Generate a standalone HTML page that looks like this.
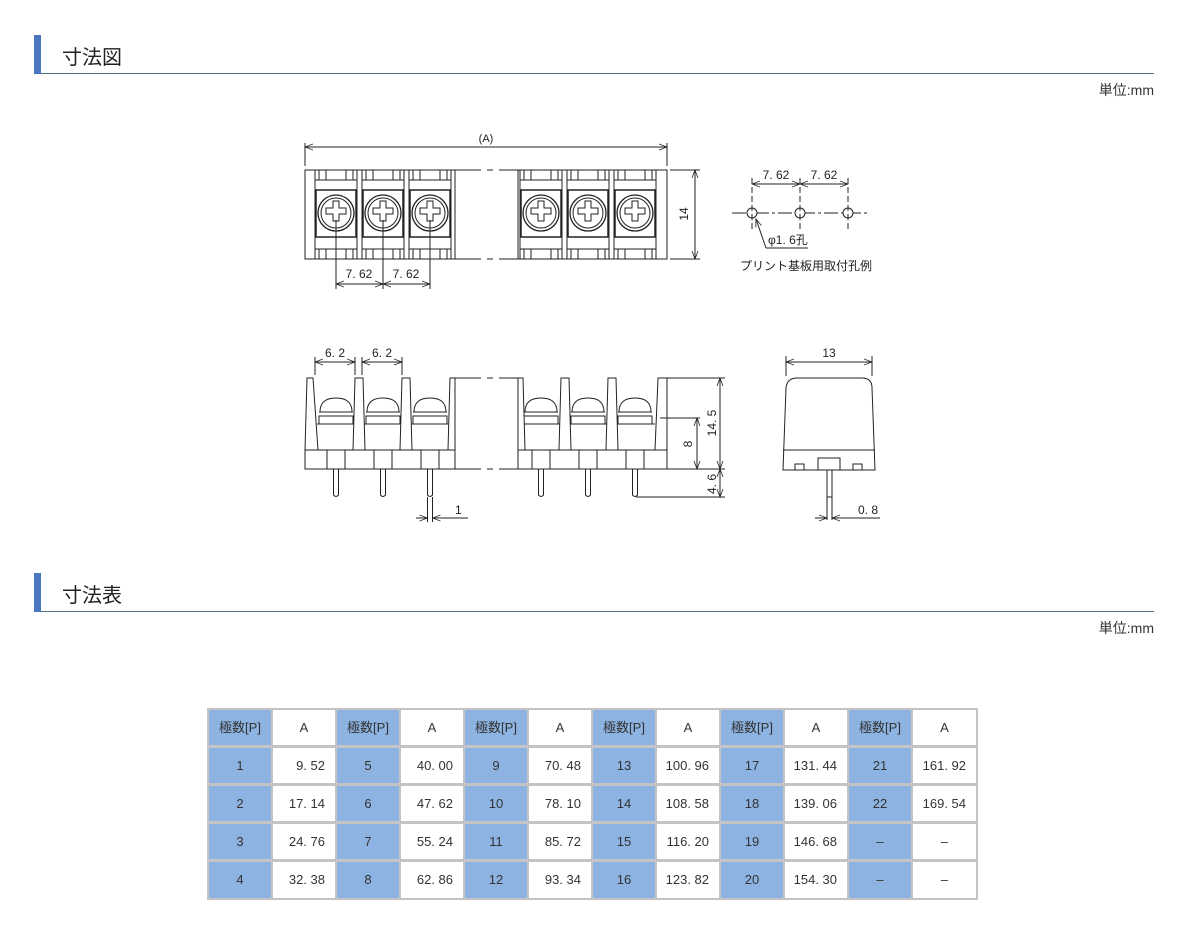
<!DOCTYPE html>
<html><head><meta charset="utf-8"><style>
body{margin:0;width:1193px;height:937px;background:#fff;position:relative;font-family:"Liberation Sans","Noto Sans CJK JP",sans-serif;overflow:hidden}
.h{position:absolute;left:34px;width:1120px;height:38px;border-bottom:1px solid #4e7282}
.h .bar{position:absolute;left:0;top:0;width:7px;height:39px;background:#4a78c0}
.h .t{position:absolute;left:28px;top:6px;font-size:20px;color:#222}
.u{position:absolute;right:39px;font-size:14px;color:#333}
.tb{position:absolute;left:207px;top:708px;width:771px;height:192px;background:#c4c4c4}
.c{position:absolute;height:35px;line-height:35px;font-size:13px;color:#333;text-align:center;box-sizing:border-box}
.b{background:#8db3e2}.w{background:#fff}.r{text-align:right;padding-right:10px}
svg text{font-family:"Liberation Sans","Noto Sans CJK JP",sans-serif;fill:#222}
</style></head><body>
<div class="h" style="top:35px"><div class="bar"></div><div class="t">寸法図</div></div>
<div class="u" style="top:80px">単位:mm</div>
<div class="h" style="top:573px"><div class="bar"></div><div class="t">寸法表</div></div>
<div class="u" style="top:618px">単位:mm</div>

<svg width="1193" height="560" style="position:absolute;left:0;top:0" stroke="#222" fill="none" stroke-width="1">
<defs>
<marker id="a" markerWidth="9" markerHeight="7" refX="8" refY="3.5" orient="auto-start-reverse" markerUnits="userSpaceOnUse"><path d="M0,0.5 L8,3.5 L0,6.5" stroke="#222" fill="none" stroke-width="0.8"/></marker>
<g id="tp">
<rect x="-21" y="170" width="42" height="89"/>
<rect x="-17" y="170" width="7" height="10"/><rect x="10" y="170" width="7" height="10"/>
<rect x="-17" y="249" width="7" height="10"/><rect x="10" y="249" width="7" height="10"/>
<line x1="-21" y1="180" x2="21" y2="180"/><line x1="-21" y1="249" x2="21" y2="249"/>
<rect x="-20" y="190" width="40" height="47" stroke-width="1.5"/>
<circle cy="213" r="18" stroke-width="1.3"/><circle cy="213" r="15"/>
<path d="M-3,201 h6 v7 h7 v6 h-7 v7 h-6 v-7 h-7 v-6 h7 z"/>
</g>
<g id="sp">
<path d="M-16,412 q0,-14 16,-14 q16,0 16,14 z" fill="#fff"/>
<rect x="-17" y="416" width="34" height="8"/>
<line x1="-17" y1="412" x2="17" y2="412"/>
<rect x="-9" y="450" width="18" height="19"/>
<path d="M-2.5,469 v26 q2.5,3 5,0 v-26"/>
</g>
<g id="br"><polygon points="-6,450 -4,378 4,378 6,450" fill="#fff"/></g>
</defs>
<!-- top view -->
<use href="#tp" x="336"/><use href="#tp" x="383"/><use href="#tp" x="430"/>
<use href="#tp" x="541"/><use href="#tp" x="588"/><use href="#tp" x="635"/>
<rect x="305" y="170" width="150" height="89"/>
<rect x="518" y="170" width="149" height="89"/>
<path d="M455,170 h63 M455,259 h63" stroke-dasharray="26,6,6,6"/>
<line x1="305" y1="166" x2="305" y2="143"/><line x1="667" y1="166" x2="667" y2="143"/>
<line x1="305" y1="147" x2="667" y2="147" marker-start="url(#a)" marker-end="url(#a)"/>
<text x="486" y="142" font-size="11" stroke="none" text-anchor="middle">(A)</text>
<line x1="670" y1="170" x2="700" y2="170"/><line x1="670" y1="259" x2="700" y2="259"/>
<line x1="695" y1="170" x2="695" y2="259" marker-start="url(#a)" marker-end="url(#a)"/>
<text transform="translate(688,214) rotate(-90)" font-size="12" stroke="none" text-anchor="middle">14</text>
<line x1="336" y1="220" x2="336" y2="289"/><line x1="383" y1="220" x2="383" y2="289"/><line x1="430" y1="220" x2="430" y2="289"/>
<line x1="336" y1="284" x2="383" y2="284" marker-start="url(#a)" marker-end="url(#a)"/>
<line x1="383" y1="284" x2="430" y2="284" marker-start="url(#a)" marker-end="url(#a)"/>
<text x="359" y="278" font-size="12" stroke="none" text-anchor="middle">7. 62</text>
<text x="406" y="278" font-size="12" stroke="none" text-anchor="middle">7. 62</text>
<!-- hole pattern -->
<line x1="732" y1="213" x2="868" y2="213" stroke-dasharray="14,3,3,3"/>
<circle cx="752" cy="213" r="5" fill="#fff"/><circle cx="800" cy="213" r="5" fill="#fff"/><circle cx="848" cy="213" r="5" fill="#fff"/>
<path d="M752,178 V230 M800,178 V230 M848,178 V230" stroke-dasharray="6,3"/>
<line x1="752" y1="184" x2="800" y2="184" marker-start="url(#a)" marker-end="url(#a)"/>
<line x1="800" y1="184" x2="848" y2="184" marker-start="url(#a)" marker-end="url(#a)"/>
<text x="776" y="179" font-size="12" stroke="none" text-anchor="middle">7. 62</text>
<text x="824" y="179" font-size="12" stroke="none" text-anchor="middle">7. 62</text>
<path d="M766,248 L756,219" marker-end="url(#a)"/><line x1="766" y1="248" x2="808" y2="248"/>
<text x="768" y="244" font-size="12" stroke="none">φ1. 6孔</text>
<text x="740" y="270" font-size="12" stroke="none">プリント基板用取付孔例</text>
<!-- side view -->
<rect x="305" y="450" width="150" height="19"/>
<rect x="518" y="450" width="149" height="19"/>
<path d="M455,378 h63 M455,469 h63" stroke-dasharray="26,6,6,6"/>
<line x1="317" y1="424" x2="449" y2="424"/><line x1="524" y1="424" x2="655" y2="424"/>
<path d="M455,378 V450 M518,378 V450"/>
<use href="#sp" x="336"/><use href="#sp" x="383"/><use href="#sp" x="430"/>
<use href="#sp" x="541"/><use href="#sp" x="588"/><use href="#sp" x="635"/>
<polygon points="305,450 307,378 313,378 318,450" fill="#fff"/>
<use href="#br" x="359"/><use href="#br" x="406"/>
<polygon points="448,450 450,378 455,378 455,450" fill="#fff"/>
<polygon points="518,450 518,378 523,378 525,450" fill="#fff"/>
<use href="#br" x="565"/><use href="#br" x="612"/>
<polygon points="655,450 658,378 667,378 667,450" fill="#fff"/>
<path d="M315,375 V357 M355,375 V357 M362,375 V357 M402,375 V357"/>
<line x1="315" y1="362" x2="355" y2="362" marker-start="url(#a)" marker-end="url(#a)"/>
<line x1="362" y1="362" x2="402" y2="362" marker-start="url(#a)" marker-end="url(#a)"/>
<text x="335" y="357" font-size="12" stroke="none" text-anchor="middle">6. 2</text>
<text x="382" y="357" font-size="12" stroke="none" text-anchor="middle">6. 2</text>
<path d="M667,378 H725 M667,469 H725 M636,497 H725 M660,418 H700"/>
<line x1="720" y1="378" x2="720" y2="469" marker-start="url(#a)" marker-end="url(#a)"/>
<line x1="697" y1="418" x2="697" y2="469" marker-start="url(#a)" marker-end="url(#a)"/>
<line x1="720" y1="469" x2="720" y2="497" marker-start="url(#a)" marker-end="url(#a)"/>
<text transform="translate(716,423) rotate(-90)" font-size="12" stroke="none" text-anchor="middle">14. 5</text>
<text transform="translate(692,444) rotate(-90)" font-size="12" stroke="none" text-anchor="middle">8</text>
<text transform="translate(716,484) rotate(-90)" font-size="12" stroke="none" text-anchor="middle">4. 6</text>
<path d="M427.5,497 V522 M432.5,497 V522"/>
<line x1="416" y1="518" x2="427.5" y2="518" marker-end="url(#a)"/>
<line x1="468" y1="518" x2="432.5" y2="518" marker-end="url(#a)"/>
<text x="455" y="514" font-size="12" stroke="none">1</text>
<!-- end view -->
<path d="M783,470 L786,388 Q787,378 797,378 H862 Q872,378 872,388 L875,470 Z"/>
<line x1="783" y1="450" x2="875" y2="450"/>
<path d="M783,470 V470 M795,470 V464 H804 V470 M818,470 V458 H840 V470 M853,470 V464 H862 V470"/>
<path d="M827,470 V520 M832,470 V520 M827,497 H832"/>
<path d="M786,376 V356 M872,376 V356"/>
<line x1="786" y1="362" x2="872" y2="362" marker-start="url(#a)" marker-end="url(#a)"/>
<text x="829" y="357" font-size="12" stroke="none" text-anchor="middle">13</text>
<line x1="815" y1="518" x2="827" y2="518" marker-end="url(#a)"/>
<line x1="880" y1="518" x2="832" y2="518" marker-end="url(#a)"/>
<text x="858" y="514" font-size="12" stroke="none">0. 8</text>
</svg>

<div class="tb">
<div class="c b" style="left:2px;top:2px;width:62px">極数[P]</div><div class="c w" style="left:66px;top:2px;width:62px">A</div>
<div class="c b" style="left:130px;top:2px;width:62px">極数[P]</div><div class="c w" style="left:194px;top:2px;width:62px">A</div>
<div class="c b" style="left:258px;top:2px;width:62px">極数[P]</div><div class="c w" style="left:322px;top:2px;width:62px">A</div>
<div class="c b" style="left:386px;top:2px;width:62px">極数[P]</div><div class="c w" style="left:450px;top:2px;width:62px">A</div>
<div class="c b" style="left:514px;top:2px;width:62px">極数[P]</div><div class="c w" style="left:578px;top:2px;width:62px">A</div>
<div class="c b" style="left:642px;top:2px;width:62px">極数[P]</div><div class="c w" style="left:706px;top:2px;width:63px">A</div>

<div class="c b" style="left:2px;top:40px;width:62px">1</div><div class="c w r" style="left:66px;top:40px;width:62px">9. 52</div>
<div class="c b" style="left:130px;top:40px;width:62px">5</div><div class="c w r" style="left:194px;top:40px;width:62px">40. 00</div>
<div class="c b" style="left:258px;top:40px;width:62px">9</div><div class="c w r" style="left:322px;top:40px;width:62px">70. 48</div>
<div class="c b" style="left:386px;top:40px;width:62px">13</div><div class="c w r" style="left:450px;top:40px;width:62px">100. 96</div>
<div class="c b" style="left:514px;top:40px;width:62px">17</div><div class="c w r" style="left:578px;top:40px;width:62px">131. 44</div>
<div class="c b" style="left:642px;top:40px;width:62px">21</div><div class="c w r" style="left:706px;top:40px;width:63px">161. 92</div>

<div class="c b" style="left:2px;top:78px;width:62px">2</div><div class="c w r" style="left:66px;top:78px;width:62px">17. 14</div>
<div class="c b" style="left:130px;top:78px;width:62px">6</div><div class="c w r" style="left:194px;top:78px;width:62px">47. 62</div>
<div class="c b" style="left:258px;top:78px;width:62px">10</div><div class="c w r" style="left:322px;top:78px;width:62px">78. 10</div>
<div class="c b" style="left:386px;top:78px;width:62px">14</div><div class="c w r" style="left:450px;top:78px;width:62px">108. 58</div>
<div class="c b" style="left:514px;top:78px;width:62px">18</div><div class="c w r" style="left:578px;top:78px;width:62px">139. 06</div>
<div class="c b" style="left:642px;top:78px;width:62px">22</div><div class="c w r" style="left:706px;top:78px;width:63px">169. 54</div>

<div class="c b" style="left:2px;top:116px;width:62px">3</div><div class="c w r" style="left:66px;top:116px;width:62px">24. 76</div>
<div class="c b" style="left:130px;top:116px;width:62px">7</div><div class="c w r" style="left:194px;top:116px;width:62px">55. 24</div>
<div class="c b" style="left:258px;top:116px;width:62px">11</div><div class="c w r" style="left:322px;top:116px;width:62px">85. 72</div>
<div class="c b" style="left:386px;top:116px;width:62px">15</div><div class="c w r" style="left:450px;top:116px;width:62px">116. 20</div>
<div class="c b" style="left:514px;top:116px;width:62px">19</div><div class="c w r" style="left:578px;top:116px;width:62px">146. 68</div>
<div class="c b" style="left:642px;top:116px;width:62px">–</div><div class="c w" style="left:706px;top:116px;width:63px">–</div>

<div class="c b" style="left:2px;top:154px;width:62px;height:36px">4</div><div class="c w r" style="left:66px;top:154px;width:62px;height:36px">32. 38</div>
<div class="c b" style="left:130px;top:154px;width:62px;height:36px">8</div><div class="c w r" style="left:194px;top:154px;width:62px;height:36px">62. 86</div>
<div class="c b" style="left:258px;top:154px;width:62px;height:36px">12</div><div class="c w r" style="left:322px;top:154px;width:62px;height:36px">93. 34</div>
<div class="c b" style="left:386px;top:154px;width:62px;height:36px">16</div><div class="c w r" style="left:450px;top:154px;width:62px;height:36px">123. 82</div>
<div class="c b" style="left:514px;top:154px;width:62px;height:36px">20</div><div class="c w r" style="left:578px;top:154px;width:62px;height:36px">154. 30</div>
<div class="c b" style="left:642px;top:154px;width:62px;height:36px">–</div><div class="c w" style="left:706px;top:154px;width:63px;height:36px">–</div>
</div>
</body></html>
